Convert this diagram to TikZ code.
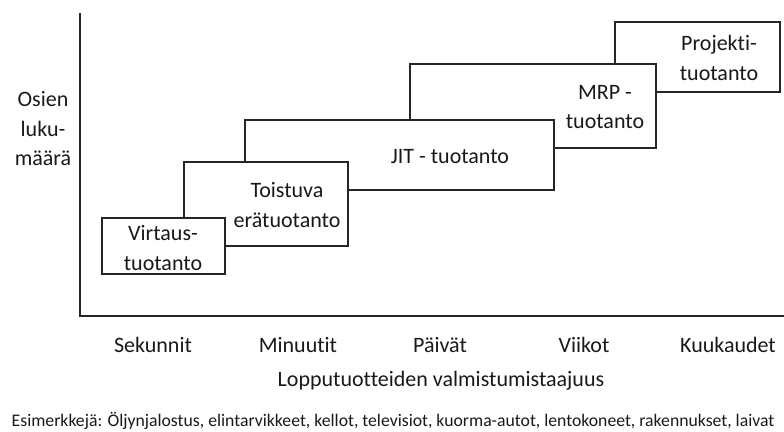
\documentclass[tikz,border=0pt]{standalone}
\usepackage{fontspec}
\setmainfont[RawFeature={-liga;-clig}]{Carlito}
\begin{document}
\begin{tikzpicture}[x=1pt,y=-1pt,
  box/.style={draw=black!85,line width=1.3pt,fill=white,inner sep=0pt},
  lbl/.style={align=center,inner sep=0pt,font=\fontsize{22}{29.5}\selectfont,text=black!90},
  small/.style={inner sep=0pt,font=\fontsize{17.7}{20}\selectfont,text=black!90}]
\useasboundingbox (0,0) rectangle (784,431);
% axes
\coordinate (top) at (80,13);
\coordinate (orig) at (80,316);
\coordinate (right) at (784,316);
\draw[line width=2.6pt,black!85] (top) -- (orig) -- (right);
% boxes, back to front
\node[box,minimum width=165pt,minimum height=70pt] (proj) at (697.5,57) {};
\node[box,minimum width=246pt,minimum height=84pt] (mrp) at (533,106) {};
\node[box,minimum width=309pt,minimum height=70pt] (jit) at (399.5,155) {};
\node[box,minimum width=164pt,minimum height=84pt] (toist) at (266,204) {};
\node[box,minimum width=123pt,minimum height=56pt] (virt) at (163.5,246) {};
% box texts
\node[lbl] (tproj) at (719,58) {Projekti-\\tuotanto};
\node[lbl] (tmrp) at (605,107) {MRP -\\tuotanto};
\node[lbl] (tjit) at (450,157) {JIT - tuotanto};
\node[lbl] (ttoist) at (287,205) {Toistuva\\erätuotanto};
\node[lbl] (tvirt) at (163,248) {Virtaus-\\tuotanto};
% axis labels
\node[lbl] (ylab) at (43,129) {Osien\\luku-\\määrä};
\node[lbl] (x1) at (153,345) {Sekunnit};
\node[lbl] (x2) at (298,345) {Minuutit};
\node[lbl] (x3) at (440,345) {Päivät};
\node[lbl] (x4) at (584,345) {Viikot};
\node[lbl] (x5) at (728,345) {Kuukaudet};
\node[lbl] (xlab) at (441,381) {Lopputuotteiden valmistumistaajuus};
\node[small] (ex) at (393,421) {Esimerkkejä: Öljynjalostus, elintarvikkeet, kellot, televisiot, kuorma-autot, lentokoneet, rakennukset, laivat};
\end{tikzpicture}
\end{document}
